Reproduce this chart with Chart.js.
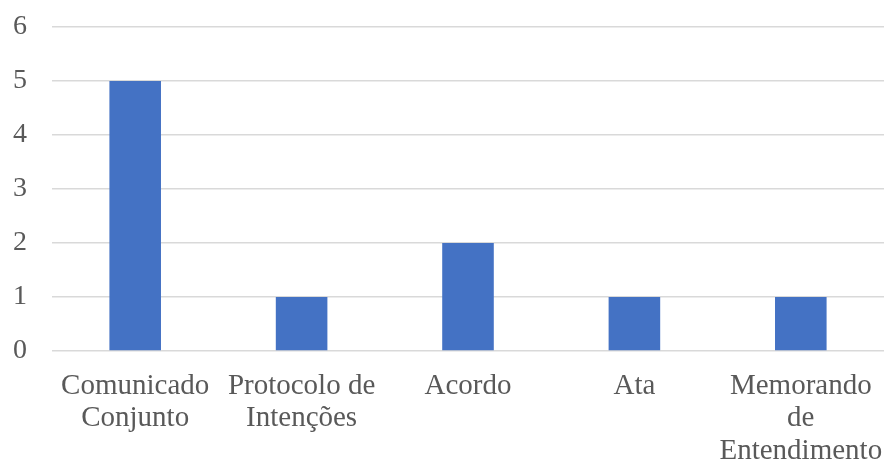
<!DOCTYPE html>
<html>
<head>
<meta charset="utf-8">
<script src="https://cdn.jsdelivr.net/npm/chart.js@4"></script>
<style>
html,body{margin:0;padding:0;background:#fff;}
#wrap{width:885px;height:466px;position:relative;}
</style>
</head>
<body>
<div id="wrap"><canvas id="c"></canvas></div>
<script>
const categories = [
  ["Comunicado", "Conjunto"],
  ["Protocolo de", "Intenções"],
  ["Acordo"],
  ["Ata"],
  ["Memorando", "de", "Entendimento"]
];
const values = [5, 1, 2, 1, 1];
const yTicks = [0, 1, 2, 3, 4, 5, 6];

new Chart(document.getElementById('c'), {
  type: 'bar',
  data: {
    labels: categories,
    datasets: [{
      data: values,
      backgroundColor: '#4472C4',
      borderWidth: 0,
      barPercentage: 0.62,
      categoryPercentage: 0.5
    }]
  },
  options: {
    responsive: true,
    maintainAspectRatio: false,
    animation: false,
    layout: { padding: { top: 27, right: 1, left: 0, bottom: 0 } },
    plugins: { legend: { display: false }, tooltip: { enabled: false } },
    scales: {
      x: {
        grid: { display: false },
        border: { display: false },
        ticks: {
          color: '#595959',
          font: { family: 'Liberation Serif', size: 29, lineHeight: 1.12 },
          maxRotation: 0,
          autoSkip: false,
          padding: 11
        },
        afterFit: (s) => { s.height = 115; s.paddingLeft = 0; s.paddingRight = 0; }
      },
      y: {
        min: 0, max: 6,
        afterBuildTicks: (s) => { s.ticks = yTicks.map(v => ({ value: v })); },
        grid: { color: '#d9d9d9', lineWidth: 1.5, drawTicks: false },
        border: { display: false },
        ticks: {
          color: '#595959',
          font: { family: 'Liberation Serif', size: 28, lineHeight: 1 },
          padding: 25
        },
        afterFit: (s) => { s.width = 52; s.paddingTop = 0; s.paddingBottom = 0; }
      }
    }
  }
});
</script>
</body>
</html>
